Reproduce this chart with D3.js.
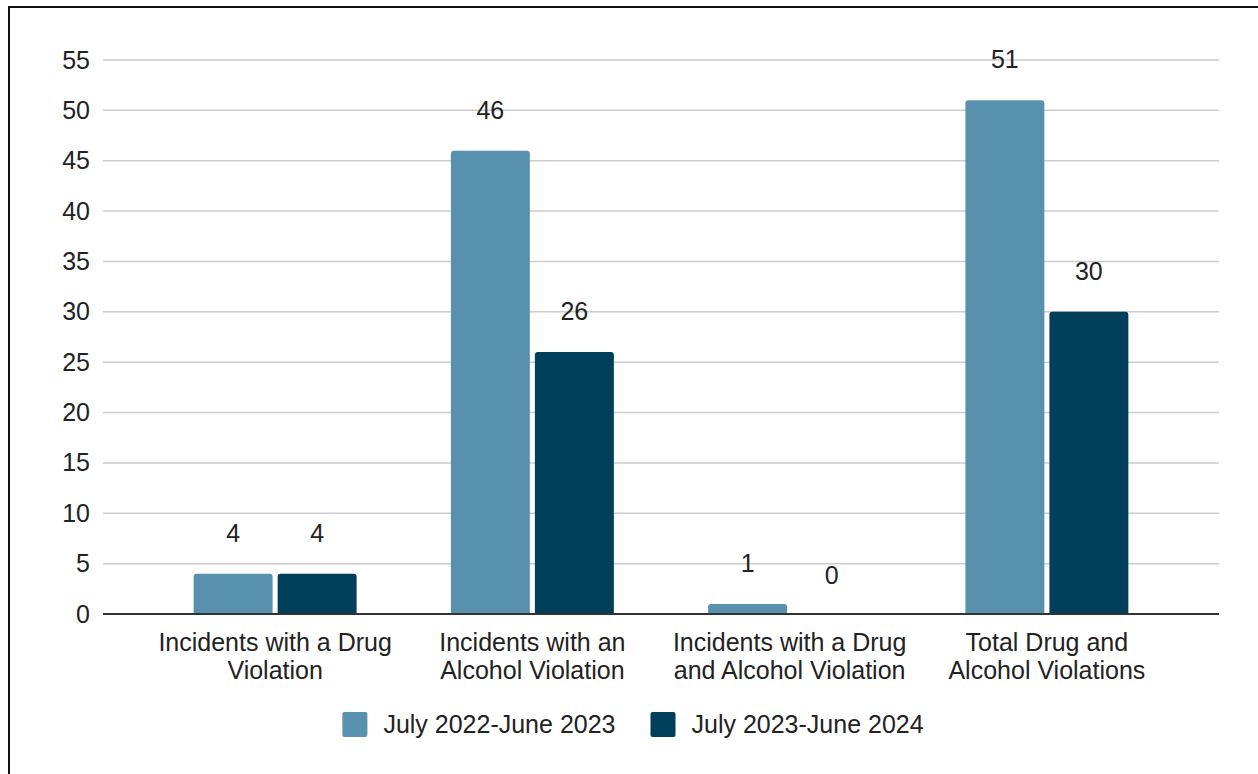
<!DOCTYPE html>
<html>
<head>
<meta charset="utf-8">
<script src="https://cdn.jsdelivr.net/npm/d3@7"></script>
<style>
  body { margin: 0; background: #fff; }
  text { font-family: Arial, "Liberation Sans", sans-serif; fill: #222; }
</style>
</head>
<body>
<div id="chart"></div>
<script>
// chart data
var categories = [
    "Incidents with a Drug Violation",
    "Incidents with an Alcohol Violation",
    "Incidents with a Drug and Alcohol Violation",
    "Total Drug and Alcohol Violations"
];
var seriesNames = ["July 2022-June 2023", "July 2023-June 2024"];
var series2023 = [4, 46, 1, 51];
var series2024 = [4, 26, 0, 30];
var yTicks = [0, 5, 10, 15, 20, 25, 30, 35, 40, 45, 50, 55];
var colors = ["#5891ad", "#003f5c"];

var width = 1258,
    height = 774;

var svg = d3.select("#chart").append("svg")
    .attr("width", width)
    .attr("height", height);

// frame (left and top edges only visible)
svg.append("rect")
    .attr("x", 9).attr("y", 7)
    .attr("width", 1400).attr("height", 900)
    .attr("fill", "none")
    .attr("stroke", "#111")
    .attr("stroke-width", 2);

var plotLeft = 103, plotRight = 1219;

var y = d3.scaleLinear().domain([0, 55]).range([614, 60]);

var x0 = d3.scaleBand()
    .domain(categories)
    .range([146.5, 1175.5])
    .padding(0);

var x1 = d3.scaleBand()
    .domain([0, 1])
    .range([0, x0.bandwidth()])
    .paddingInner(0.06)
    .paddingOuter(0.561);

// gridlines
svg.append("g")
    .selectAll("line")
    .data(yTicks.filter(function(d) { return d > 0; }))
    .enter().append("line")
    .attr("x1", plotLeft).attr("x2", plotRight)
    .attr("y1", function(d) { return y(d); })
    .attr("y2", function(d) { return y(d); })
    .attr("stroke", "#cccccc")
    .attr("stroke-width", 1.5);

// y axis labels
var yAxis = d3.axisLeft(y).tickValues(yTicks).tickSize(0).tickPadding(13);
var yg = svg.append("g")
    .attr("transform", "translate(" + plotLeft + ",0)")
    .call(yAxis);
yg.select(".domain").remove();
yg.selectAll("text")
    .style("font-size", "25px")
    .attr("fill", "#222");

// bars
var rows = categories.map(function(c, i) {
    return { cat: c, values: [series2023[i], series2024[i]] };
});

var group = svg.append("g")
    .selectAll("g")
    .data(rows)
    .enter().append("g")
    .attr("transform", function(d) { return "translate(" + x0(d.cat) + ",0)"; });

function barPath(x, w, top, bottom, r) {
    var h = bottom - top;
    if (h <= 0) return "";
    r = Math.min(r, h, w / 2);
    return "M" + x + "," + bottom +
        "V" + (top + r) +
        "Q" + x + "," + top + " " + (x + r) + "," + top +
        "H" + (x + w - r) +
        "Q" + (x + w) + "," + top + " " + (x + w) + "," + (top + r) +
        "V" + bottom + "Z";
}

group.selectAll("path")
    .data(function(d) { return d.values.map(function(v, k) { return { v: v, k: k }; }); })
    .enter().append("path")
    .attr("d", function(d) { return barPath(x1(d.k), x1.bandwidth(), y(d.v), y(0), 3); })
    .attr("fill", function(d) { return colors[d.k]; });

group.selectAll("text.val")
    .data(function(d) { return d.values.map(function(v, k) { return { v: v, k: k }; }); })
    .enter().append("text")
    .attr("class", "val")
    .attr("x", function(d) { return x1(d.k) + x1.bandwidth() / 2; })
    .attr("y", function(d) { return y(d.v) - (d.v === 0 ? 30 : 32); })
    .attr("text-anchor", "middle")
    .style("font-size", "25px")
    .text(function(d) { return d.v; });

// baseline
svg.append("line")
    .attr("x1", plotLeft).attr("x2", plotRight)
    .attr("y1", y(0)).attr("y2", y(0))
    .attr("stroke", "#333")
    .attr("stroke-width", 2);

// category labels, wrapped
var xAxis = d3.axisBottom(x0).tickSize(0).tickPadding(0);
var xg = svg.append("g")
    .attr("transform", "translate(0," + y(0) + ")")
    .call(xAxis);
xg.select(".domain").remove();
xg.selectAll("text")
    .style("font-size", "25px")
    .attr("fill", "#222")
    .attr("dy", null)
    .attr("y", 0)
    .each(function(d) { wrap(d3.select(this), d, 245); });

function wrap(t, str, maxW) {
    var words = str.split(" "), line = [], lines = [];
    t.text(null);
    var tspan = t.append("tspan");
    words.forEach(function(w) {
        line.push(w);
        tspan.text(line.join(" "));
        if (tspan.node().getComputedTextLength() > maxW && line.length > 1) {
            line.pop();
            lines.push(line.join(" "));
            line = [w];
        }
    });
    lines.push(line.join(" "));
    t.text(null);
    lines.forEach(function(l, i) {
        t.append("tspan").attr("x", 0).attr("y", 37 + i * 28).text(l);
    });
}

// legend
var legend = svg.append("g");
var lx = 0;
var items = legend.selectAll("g")
    .data(seriesNames)
    .enter().append("g");
items.append("rect")
    .attr("width", 25).attr("height", 25)
    .attr("rx", 2)
    .attr("y", -12)
    .attr("fill", function(d, i) { return colors[i]; });
items.append("text")
    .attr("x", 41)
    .attr("y", 9)
    .style("font-size", "25px")
    .text(function(d) { return d; });
items.each(function() {
    var g = d3.select(this);
    g.attr("transform", "translate(" + lx + ",0)");
    lx += 41 + g.select("text").node().getComputedTextLength() + 35;
});
var legendW = lx - 35;
legend.attr("transform", "translate(" + (633 - legendW / 2) + ",724)");
</script>
</body>
</html>
